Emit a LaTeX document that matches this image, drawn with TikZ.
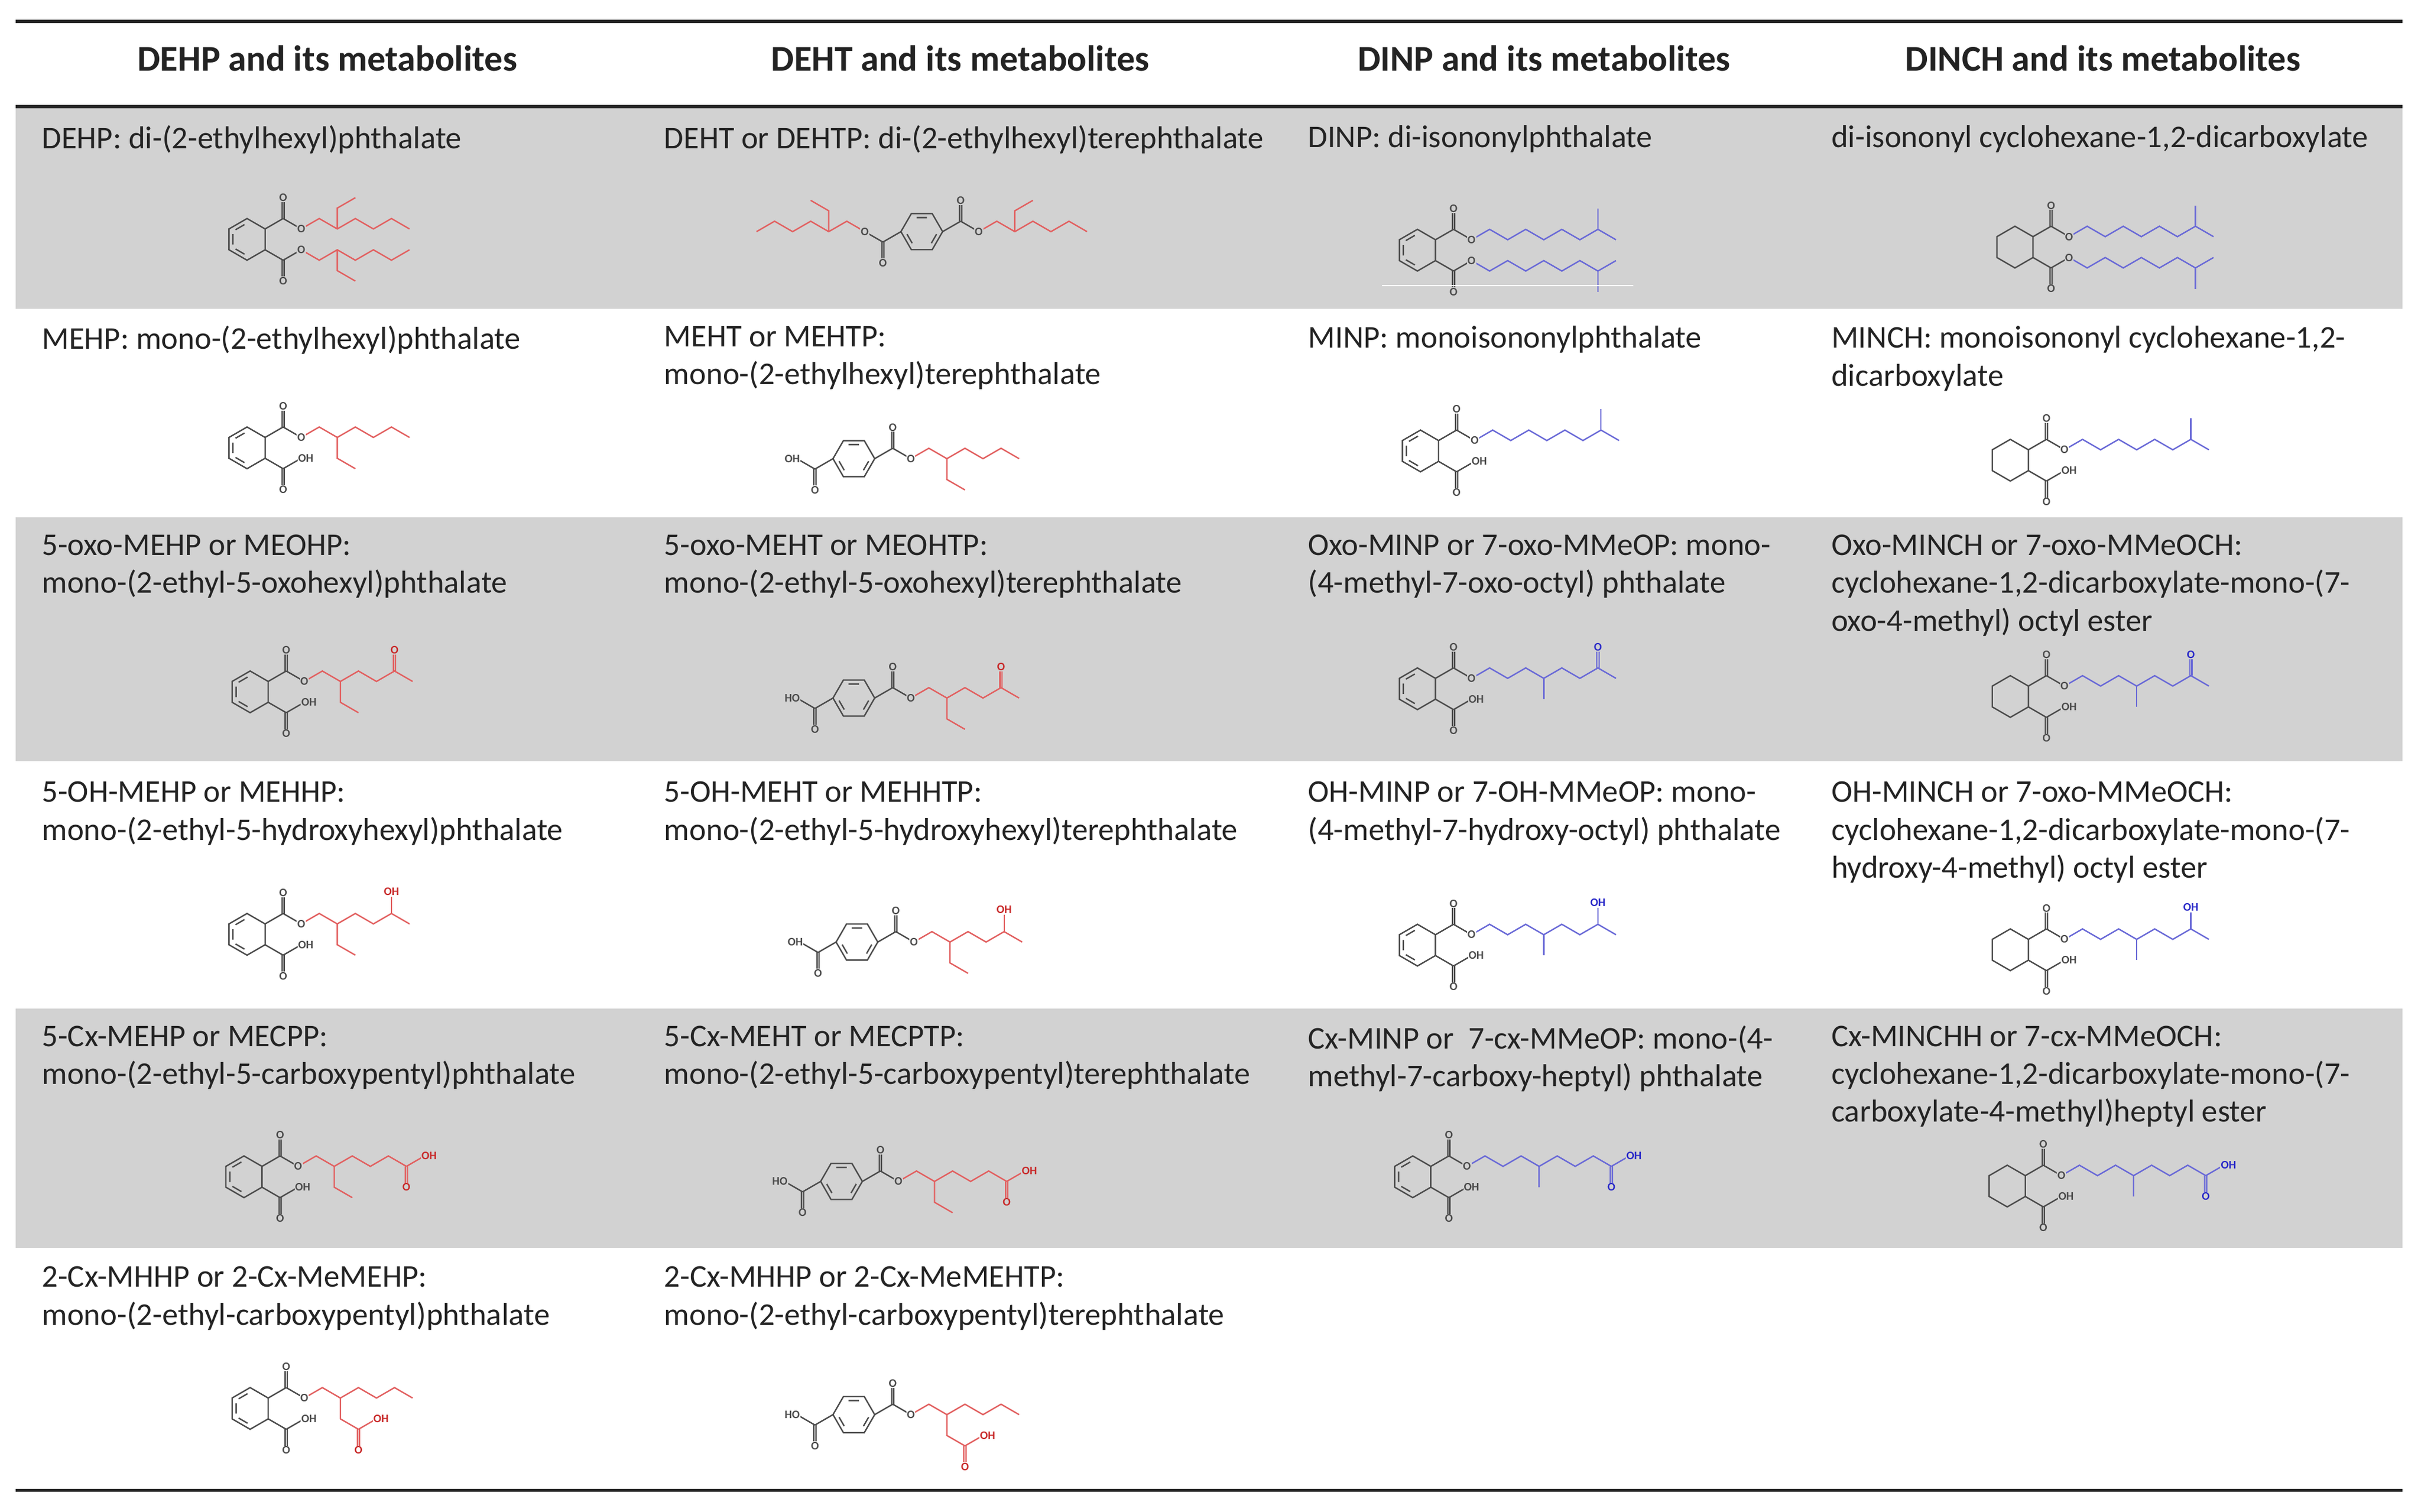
\documentclass[tikz,border=0pt]{standalone}
\usepackage{fontspec}
\setmainfont{Carlito}
\usetikzlibrary{calc}
\definecolor{grayc}{RGB}{210,210,210}
\definecolor{txt}{RGB}{35,35,35}
\definecolor{corec}{RGB}{75,75,75}
\definecolor{redc}{RGB}{226,96,96}
\definecolor{redl}{RGB}{200,40,40}
\definecolor{bluec}{RGB}{105,105,215}
\definecolor{bluel}{RGB}{40,40,200}
\colorlet{rowbg}{white}
\def\bs{13.5}
\tikzset{
 core/.style={draw=corec,line width=0.9pt},
 ch/.style={draw=redc,line width=0.9pt},
 atom/.style={fill=rowbg,inner sep=0.4pt,text=corec,font=\fontsize{7.5}{7.5}\selectfont\bfseries},
 chatom/.style={atom,text=redl},
 lbl/.style={anchor=north west,align=left,text=txt,font=\fontsize{20.5}{24.5}\selectfont,inner sep=0pt},
 hdr/.style={anchor=base,text=txt,font=\fontsize{23.5}{26}\selectfont\bfseries,inner sep=0pt},
 rule/.style={line width=2.2pt,draw=black!85}
}
\newcommand\zz[1]{\draw[ch] (0,0) \foreach \i in {1,...,#1}{--({\i*0.866},{mod(\i,2)*0.5})};}
\newcommand\chEH[1]{\zz{6}\draw[ch] (1.732,0)--(1.732,#1)--(2.598,{1.5*(#1)});}
\newcommand\chEHoxo{\chEH{-1}\draw[ch] (4.28,.5)--(4.28,1.3) (4.38,.5)--(4.38,1.3);\node[chatom] at (4.33,1.5){O};}
\newcommand\chEHoh{\chEH{-1}\draw[ch] (4.33,.5)--(4.33,1.3);\node[chatom] at (4.33,1.55){OH};}
\newcommand\chEHcx{\chEH{-1}\draw[ch] (5.146,0)--(5.146,-.8) (5.246,0)--(5.246,-.8) (5.196,0)--(6.062,.5);\node[chatom] at (5.196,-1){O};\node[chatom,anchor=west,xshift=-2.5pt] at (6.062,.5){OH};}
\newcommand\chEHtwo{\zz{6}\draw[ch] (1.732,0)--(1.732,-1)--(2.598,-1.5) (2.548,-1.5)--(2.548,-2.3) (2.648,-1.5)--(2.648,-2.3) (2.598,-1.5)--(3.464,-1);\node[chatom] at (2.598,-2.5){O};\node[chatom,anchor=west,xshift=-2.5pt] at (3.464,-1){OH};}
\newcommand\chIN{\zz{8}\draw[ch] (6.062,.5)--(6.062,1.5);}
\newcommand\chINoxo{\zz{8}\draw[ch] (3.464,0)--(3.464,-1) (6.012,.5)--(6.012,1.3) (6.112,.5)--(6.112,1.3);\node[chatom] at (6.062,1.5){O};}
\newcommand\chINoh{\zz{8}\draw[ch] (3.464,0)--(3.464,-1) (6.062,.5)--(6.062,1.3);\node[chatom] at (6.062,1.55){OH};}
\newcommand\chINcx{\zz{8}\draw[ch] (3.464,0)--(3.464,-1) (6.878,0)--(6.878,-.8) (6.978,0)--(6.978,-.8) (6.928,0)--(7.794,.5);\node[chatom] at (6.928,-1){O};\node[chatom,anchor=west,xshift=-2.5pt] at (7.794,.5){OH};}
\newcommand\phcore[2]{%
\draw[core] (30:1)--(90:1)--(150:1)--(210:1)--(270:1)--(330:1)--cycle;
\ifnum#1=1 \draw[core] ($(90:.78)!.18!(150:.78)$)--($(90:.78)!.82!(150:.78)$) ($(150:.78)!.18!(210:.78)$)--($(150:.78)!.82!(210:.78)$) ($(210:.78)!.18!(270:.78)$)--($(210:.78)!.82!(270:.78)$);\fi
\draw[core] (30:1)--(1.732,1) (1.682,1)--(1.682,1.8) (1.782,1)--(1.782,1.8) (1.732,1)--(2.598,.5) (330:1)--(1.732,-1) (1.682,-1)--(1.682,-1.8) (1.782,-1)--(1.782,-1.8) (1.732,-1)--(2.598,-.5);
\node[atom] at (1.732,2){O};\node[atom] at (2.598,.5){O};\node[atom] at (1.732,-2){O};
\ifnum#2=1 \node[atom] at (2.598,-.5){O};\else\node[atom,anchor=west,xshift=-2.5pt] at (2.598,-.5){OH};\fi}
\newcommand\tpcore[2]{%
\draw[core] (0:1)--(60:1)--(120:1)--(180:1)--(240:1)--(300:1)--cycle;
\draw[core] ($(60:.78)!.18!(120:.78)$)--($(60:.78)!.82!(120:.78)$) ($(180:.78)!.18!(240:.78)$)--($(180:.78)!.82!(240:.78)$) ($(300:.78)!.18!(0:.78)$)--($(300:.78)!.82!(0:.78)$);
\draw[core] (0:1)--(1.866,.5) (1.816,.5)--(1.816,1.3) (1.916,.5)--(1.916,1.3) (1.866,.5)--(2.732,0) (180:1)--(-1.866,-.5) (-1.816,-.5)--(-1.816,-1.3) (-1.916,-.5)--(-1.916,-1.3) (-1.866,-.5)--(-2.732,0);
\node[atom] at (1.866,1.5){O};\node[atom] at (2.732,0){O};\node[atom] at (-1.866,-1.5){O};
\node[atom,#2] at (-2.732,0){#1};}
\newcommand\PH[4]{\begin{scope}[shift={(#1,-#2)},scale=\bs]\begin{scope}[shift={(2.598,.5)}]#4\end{scope}\phcore{#3}{0}\end{scope}}
\newcommand\PHdi[4]{\begin{scope}[shift={(#1,-#2)},scale=\bs]\begin{scope}[shift={(2.598,.5)}]#4\end{scope}\begin{scope}[shift={(2.598,-.5)},yscale=-1]#4\end{scope}\phcore{#3}{1}\end{scope}}
\newcommand\TP[4]{\begin{scope}[shift={(#1,-#2)},scale=\bs]\begin{scope}[shift={(2.732,0)}]#4\end{scope}\tpcore{#3}{anchor=east,xshift=2.5pt}\end{scope}}
\newcommand\TPdi[3]{\begin{scope}[shift={(#1,-#2)},scale=\bs]\begin{scope}[shift={(2.732,0)}]#3\end{scope}\begin{scope}[shift={(-2.732,0)},xscale=-1]#3\end{scope}\tpcore{O}{}\end{scope}}
\newcommand\red{\tikzset{ch/.style={draw=redc,line width=0.9pt},chatom/.style={atom,text=redl}}}
\newcommand\blu{\tikzset{ch/.style={draw=bluec,line width=0.9pt},chatom/.style={atom,text=bluel}}}
\begin{document}
\begin{tikzpicture}[x=1pt,y=1pt]
\fill[white] (0,0) rectangle (1568,-979);
\useasboundingbox (0,0) rectangle (1568,-979);
\foreach \a/\b in {70/200,335/493,653/808}{\fill[grayc] (10,-\a) rectangle (1556,-\b);}
\draw[rule] (10,-14)--(1556,-14);
\draw[rule] (10,-69)--(1556,-69);
\draw[rule] (10,-965)--(1556,-965);
\node[hdr] (h1) at (212,-46){DEHP and its metabolites};
\node[hdr] (h2) at (622,-46){DEHT and its metabolites};
\node[hdr] (h3) at (1000,-46){DINP and its metabolites};
\node[hdr] (h4) at (1362,-46){DINCH and its metabolites};
\node[lbl] (t11) at (27,-81){DEHP: di-(2-ethylhexyl)phthalate};
\node[lbl] (t12) at (430,-81){DEHT or DEHTP: di-(2-ethylhexyl)terephthalate};
\node[lbl] (t13) at (847,-81){DINP: di-isononylphthalate};
\node[lbl] (t14) at (1186,-81){di-isononyl cyclohexane-1,2-dicarboxylate};
\node[lbl] (t21) at (27,-211){MEHP: mono-(2-ethylhexyl)phthalate};
\node[lbl] (t22) at (430,-211){MEHT or MEHTP:\\mono-(2-ethylhexyl)terephthalate};
\node[lbl] (t23) at (847,-211){MINP: monoisononylphthalate};
\node[lbl] (t24) at (1186,-211){MINCH: monoisononyl cyclohexane-1,2-\\dicarboxylate};
\node[lbl] (t31) at (27,-346){5-oxo-MEHP or MEOHP:\\mono-(2-ethyl-5-oxohexyl)phthalate};
\node[lbl] (t32) at (430,-346){5-oxo-MEHT or MEOHTP:\\mono-(2-ethyl-5-oxohexyl)terephthalate};
\node[lbl] (t33) at (847,-346){Oxo-MINP or 7-oxo-MMeOP: mono-\\(4-methyl-7-oxo-octyl) phthalate};
\node[lbl] (t34) at (1186,-346){Oxo-MINCH or 7-oxo-MMeOCH:\\cyclohexane-1,2-dicarboxylate-mono-(7-\\oxo-4-methyl) octyl ester};
\node[lbl] (t41) at (27,-506){5-OH-MEHP or MEHHP:\\mono-(2-ethyl-5-hydroxyhexyl)phthalate};
\node[lbl] (t42) at (430,-506){5-OH-MEHT or MEHHTP:\\mono-(2-ethyl-5-hydroxyhexyl)terephthalate};
\node[lbl] (t43) at (847,-506){OH-MINP or 7-OH-MMeOP: mono-\\(4-methyl-7-hydroxy-octyl) phthalate};
\node[lbl] (t44) at (1186,-506){OH-MINCH or 7-oxo-MMeOCH:\\cyclohexane-1,2-dicarboxylate-mono-(7-\\hydroxy-4-methyl) octyl ester};
\node[lbl] (t51) at (27,-664){5-Cx-MEHP or MECPP:\\mono-(2-ethyl-5-carboxypentyl)phthalate};
\node[lbl] (t52) at (430,-664){5-Cx-MEHT or MECPTP:\\mono-(2-ethyl-5-carboxypentyl)terephthalate};
\node[lbl] (t53) at (847,-664){Cx-MINP or \ 7-cx-MMeOP: mono-(4-\\methyl-7-carboxy-heptyl) phthalate};
\node[lbl] (t54) at (1186,-664){Cx-MINCHH or 7-cx-MMeOCH:\\cyclohexane-1,2-dicarboxylate-mono-(7-\\carboxylate-4-methyl)heptyl ester};
\node[lbl] (t61) at (27,-820){2-Cx-MHHP or 2-Cx-MeMEHP:\\mono-(2-ethyl-carboxypentyl)phthalate};
\node[lbl] (t62) at (430,-820){2-Cx-MHHP or 2-Cx-MeMEHTP:\\mono-(2-ethyl-carboxypentyl)terephthalate};
\colorlet{rowbg}{grayc}
\red\PHdi{160}{155}{1}{\chEH{1}}
\TPdi{597}{150}{\chEH{1}}
\blu\PHdi{918}{162}{1}{\chIN}
\PHdi{1305}{160}{0}{\chIN}
\draw[white,line width=0.8pt] (895,-185)--(1058,-185);
\colorlet{rowbg}{white}
\red\PH{160}{290}{1}{\chEH{-1}}
\TP{553}{297}{OH}{\chEH{-1}}
\blu\PH{920}{292}{1}{\chIN}
\PH{1302}{298}{0}{\chIN}
\colorlet{rowbg}{grayc}
\red\PH{162}{448}{1}{\chEHoxo}
\TP{553}{452}{HO}{\chEHoxo}
\blu\PH{918}{446}{1}{\chINoxo}
\PH{1302}{451}{0}{\chINoxo}
\colorlet{rowbg}{white}
\red\PH{160}{605}{1}{\chEHoh}
\TP{555}{610}{OH}{\chEHoh}
\blu\PH{918}{612}{1}{\chINoh}
\PH{1302}{615}{0}{\chINoh}
\colorlet{rowbg}{grayc}
\red\PH{158}{762}{1}{\chEHcx}
\TP{545}{765}{HO}{\chEHcx}
\blu\PH{915}{762}{1}{\chINcx}
\PH{1300}{768}{0}{\chINcx}
\colorlet{rowbg}{white}
\red\PH{162}{912}{1}{\chEHtwo}
\TP{553}{916}{HO}{\chEHtwo}
\end{tikzpicture}
\end{document}
